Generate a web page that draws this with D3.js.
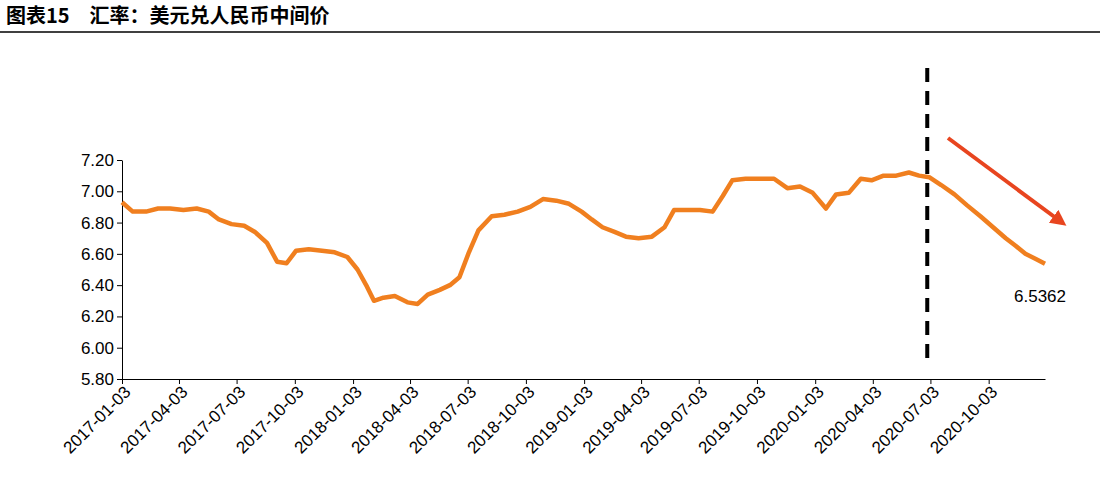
<!DOCTYPE html>
<html><head><meta charset="utf-8">
<script src="https://cdn.jsdelivr.net/npm/d3@7"></script>
<style>body{margin:0;background:#fff;font-family:Arial,"Liberation Sans",sans-serif}</style>
</head><body>
<svg id="chart" width="1100" height="502"></svg>
<script>
// rate readings (date, value)
var dates = ["2017-01-03","2017-01-20","2017-02-10","2017-03-01","2017-03-20","2017-04-10","2017-05-01","2017-05-20","2017-06-05","2017-06-25","2017-07-15","2017-08-01","2017-08-20","2017-09-05","2017-09-20","2017-10-05","2017-10-25","2017-11-15","2017-12-05","2017-12-25","2018-01-10","2018-01-25","2018-02-05","2018-02-20","2018-03-10","2018-03-30","2018-04-15","2018-05-01","2018-05-20","2018-06-05","2018-06-20","2018-07-05","2018-07-20","2018-08-10","2018-08-30","2018-09-20","2018-10-10","2018-10-30","2018-11-20","2018-12-10","2018-12-30","2019-01-15","2019-02-01","2019-02-20","2019-03-10","2019-03-30","2019-04-20","2019-05-10","2019-05-25","2019-06-15","2019-07-05","2019-07-25","2019-08-10","2019-08-25","2019-09-15","2019-10-05","2019-10-30","2019-11-20","2019-12-10","2019-12-30","2020-01-20","2020-02-05","2020-02-25","2020-03-15","2020-04-01","2020-04-20","2020-05-10","2020-05-30","2020-06-15","2020-07-01","2020-07-20","2020-08-10","2020-08-30","2020-09-20","2020-10-10","2020-10-30","2020-11-15","2020-11-30","2020-12-15","2020-12-31"];
var rates = [6.93,6.87,6.87,6.89,6.89,6.88,6.89,6.87,6.82,6.79,6.78,6.74,6.67,6.55,6.54,6.62,6.63,6.62,6.61,6.58,6.50,6.39,6.30,6.32,6.33,6.29,6.28,6.34,6.37,6.40,6.45,6.61,6.75,6.84,6.85,6.87,6.90,6.95,6.94,6.92,6.87,6.82,6.77,6.74,6.71,6.70,6.71,6.77,6.88,6.88,6.88,6.87,6.97,7.07,7.08,7.08,7.08,7.02,7.03,6.99,6.89,6.98,6.99,7.08,7.07,7.10,7.10,7.12,7.10,7.09,7.04,6.98,6.91,6.84,6.77,6.70,6.65,6.60,6.57,6.5362];
var yTicks = [5.8,6.0,6.2,6.4,6.6,6.8,7.0,7.2];
var xTicks = ["2017-01-03","2017-04-03","2017-07-03","2017-10-03","2018-01-03","2018-04-03","2018-07-03","2018-10-03","2019-01-03","2019-04-03","2019-07-03","2019-10-03","2020-01-03","2020-04-03","2020-07-03","2020-10-03"];

var parse = d3.timeParse("%Y-%m-%d");
var svg = d3.select("#chart");

svg.append("text").attr("x",6).attr("y",23).attr("font-size",20).attr("font-weight","bold")
  .attr("font-family","'Noto Sans CJK SC',sans-serif").text("图表15\u3000汇率：美元兑人民币中间价");
svg.append("line").attr("x1",0).attr("x2",1100).attr("y1",32).attr("y2",32).attr("stroke","#000").attr("stroke-width",1.5);

var x = d3.scaleTime().domain([parse("2017-01-03"), parse("2020-12-31")]).range([122,1045]);
var y = d3.scaleLinear().domain([5.8,7.2]).range([379,160]);

var gx = svg.append("g").attr("transform","translate(0,379)")
  .call(d3.axisBottom(x).tickValues(xTicks.map(parse)).tickFormat(d3.timeFormat("%Y-%m-%d")).tickSize(5).tickSizeOuter(0));
gx.selectAll("text").attr("font-size",17).attr("fill","#000").attr("text-anchor","end")
  .attr("dx","-0.2em").attr("dy","0.5em").attr("transform","rotate(-45)");
var gy = svg.append("g").attr("transform","translate(122,0)")
  .call(d3.axisLeft(y).tickValues(yTicks).tickFormat(d3.format(".2f")).tickSize(5).tickSizeOuter(0));
gy.selectAll("text").attr("font-size",17).attr("fill","#000");
svg.selectAll(".domain,.tick line").attr("stroke","#000");

var pts = dates.map(function(d,i){return [parse(d), rates[i]];});
svg.append("path").datum(pts).attr("fill","none").attr("stroke","#f07f1f").attr("stroke-width",4.5)
  .attr("stroke-linejoin","round")
  .attr("d", d3.line().x(function(d){return x(d[0]);}).y(function(d){return y(d[1]);}));

// dashed marker
var xm = x(parse("2020-06-28"));
svg.append("line").attr("x1",xm).attr("x2",xm).attr("y1",68).attr("y2",362)
  .attr("stroke","#000").attr("stroke-width",4).attr("stroke-dasharray","14,9");

// arrow
svg.append("defs").append("marker").attr("id","ah").attr("viewBox","0 0 10 10").attr("refX",5).attr("refY",5)
  .attr("markerWidth",4).attr("markerHeight",4).attr("orient","auto")
  .append("path").attr("d","M0,0L10,5L0,10z").attr("fill","#e8451f");
svg.append("line").attr("x1",948).attr("y1",138).attr("x2",1060).attr("y2",221)
  .attr("stroke","#e8451f").attr("stroke-width",4).attr("marker-end","url(#ah)");

svg.append("text").attr("x",1014).attr("y",302).attr("font-size",17).text("6.5362");
</script>
</body></html>
